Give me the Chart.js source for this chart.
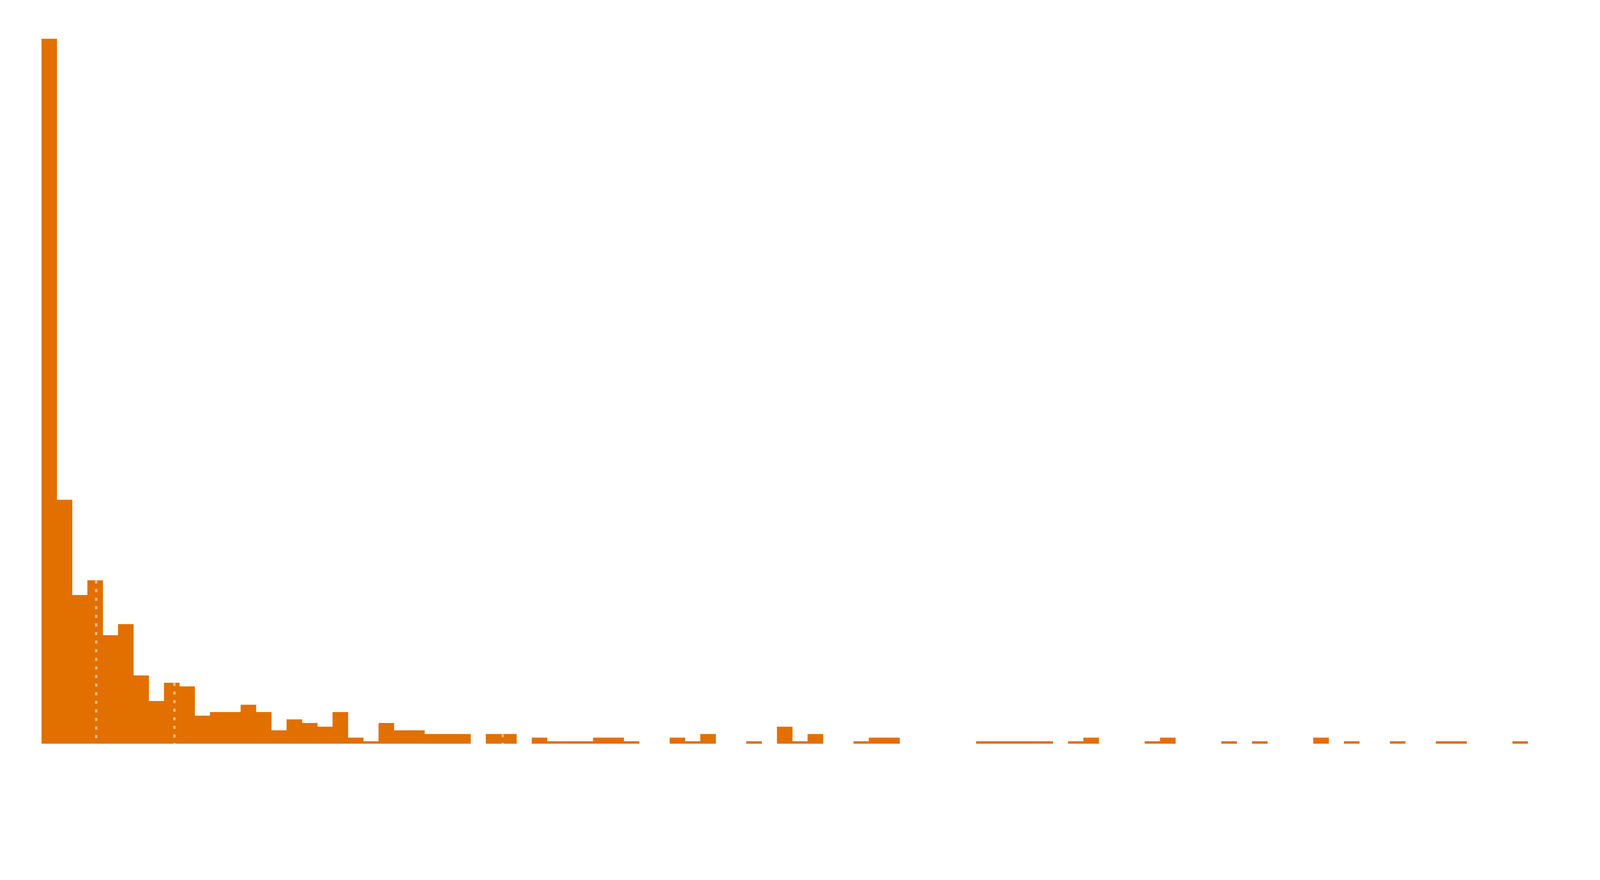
<!DOCTYPE html>
<html>
<head>
<meta charset="utf-8">
<style>
  html, body { margin: 0; padding: 0; background: #ffffff; overflow: hidden; }
  #wrap { position: relative; width: 100vw; height: 100vh; }
</style>
<script src="https://cdn.jsdelivr.net/npm/chart.js@4.4.1/dist/chart.umd.min.js"></script>
</head>
<body>
<div id="wrap"><canvas id="histChart"></canvas></div>
<script>
// ---------- Data ----------
// counts per bin (97 equal-width bins)
const binCounts = [
  193, 67, 41, 45, 30, 33, 19, 12, 17, 16,
  8, 9, 9, 11, 9, 4, 7, 6, 5, 9,
  2, 1, 6, 4, 4, 3, 3, 3, 0, 3,
  3, 0, 2, 1, 1, 1, 2, 2, 1, 0,
  0, 2, 1, 3, 0, 0, 1, 0, 5, 1,
  3, 0, 0, 1, 2, 2, 0, 0, 0, 0,
  0, 1, 1, 1, 1, 1, 0, 1, 2, 0,
  0, 0, 1, 2, 0, 0, 0, 1, 0, 1,
  0, 0, 0, 2, 0, 1, 0, 0, 1, 0,
  0, 1, 1, 0, 0, 0, 1
];

// bin centres in bin units
const binCenters = binCounts.map((_, i) => i + 0.5);

// dotted marker lines, positions in bin units
const markerPositions = [3.57, 8.67, 30.1];

// ---------- Chart ----------
const BAR_COLOR = "#E17000";
const Y_MIN = 0.38;
const Y_MAX = 200;

// reference frame is 5394 x 2253; scale paddings to whatever the page really is
const wrap = document.getElementById("wrap");
const kx = wrap.clientWidth / 5394;
const ky = wrap.clientHeight / 2253;

const markerSets = markerPositions.map(pos => ({
  type: "line",
  data: [
    { x: pos, y: binCounts[Math.floor(pos)] },
    { x: pos, y: Y_MIN }
  ],
  borderColor: "rgba(255,255,255,0.5)",
  borderWidth: 8 * kx,
  borderDash: [8 * ky, 14 * ky],
  borderCapStyle: "butt",
  pointRadius: 0,
  fill: false,
  order: 1
}));

new Chart(document.getElementById("histChart"), {
  type: "bar",
  data: {
    datasets: [
      {
        label: "count",
        data: binCenters.map((x, i) => ({ x: x, y: binCounts[i] })),
        backgroundColor: BAR_COLOR,
        borderWidth: 0,
        grouped: false,
        barPercentage: 1.0,
        categoryPercentage: 1.0,
        order: 2
      },
      ...markerSets
    ]
  },
  options: {
    responsive: true,
    maintainAspectRatio: false,
    animation: false,
    layout: { padding: { left: 140 * kx, right: 243 * kx, top: 34 * ky, bottom: 349 * ky } },
    plugins: {
      legend: { display: false },
      tooltip: { enabled: false }
    },
    scales: {
      x: { type: "linear", display: false, min: 0, max: binCounts.length, offset: false },
      y: { display: false, min: Y_MIN, max: Y_MAX }
    }
  }
});
</script>
</body>
</html>
